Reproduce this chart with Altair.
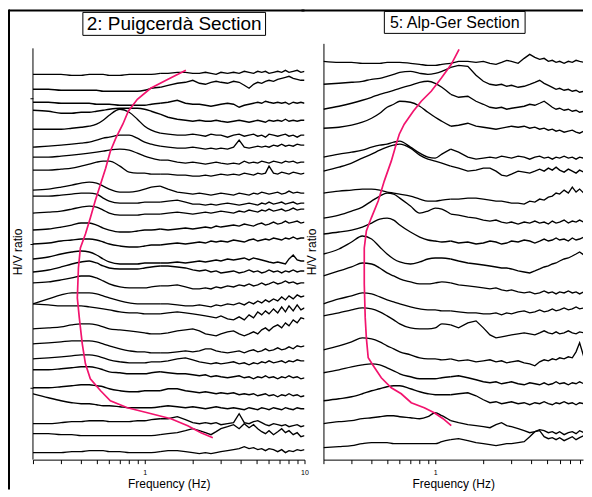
import altair as alt
import pandas as pd

# ---------------- data ----------------
freq = [0.2, 0.25, 0.3, 0.35, 0.4, 0.45, 0.5, 0.55, 0.6, 0.7, 0.8, 0.9, 1.0,
        1.1, 1.25, 1.4, 1.6, 1.8, 2.0,
        2.2, 2.4, 2.6, 2.8, 3.0, 3.3, 3.6, 3.9, 4.2, 4.5, 4.8, 5.1, 5.4, 5.7, 6.0,
        6.4, 6.8, 7.2, 7.6, 8.0, 8.5, 9.0, 9.5, 10.0]

# stacked H/V curves, Puigcerda section (offset of each station + its H/V shape)
left_offsets = [386, 371, 358, 350, 331, 313, 303, 290, 270, 264, 247, 230, 216, 201,
                188, 177, 156, 156, 131, 116, 101, 90, 72, 66, 36, 26, 7]
left_amps = [
    [0,0,0,-1,-1,0,0,0,-1,-1,0,0,0, 0,1,1,2,2,1, 1,2,1,0,2,1,2,1,3,2,1,3,2,3,1,2,3,2,4,2,3,4,2,3],
    [0,0,-1,-1,-1,-1,-1,-2,-2,-2,-2,-2,-1, 1,2,4,6,7,9, 6,5,7,8,7,6,8,7,4,1,5,7,6,8,9,8,10,11,12,13,11,10,9,9],
    [0,0,-1,-1,-1,-1,-2,-2,-2,-3,-3,-3,-3, -2,-1,0,2,-1,-2, -2,-3,-4,-3,-2,-1,-2,-5,-3,-2,-1,0,-1,1,0,-1,0,-1,0,-2,0,-1,0,-1],
    [0,-1,-3,-3,-2,-2,-1,0,1,2,2,2,1, -1,-4,-7,-9,-10,-11, -10,-11,-11,-10,-11,-12,-11,-10,-11,-12,-11,-10,-11,-12,-10,-11,-10,-11,-9,-11,-10,-11,-10,-10],
    [0,0,0,1,2,3,5,9,14,20,17,10,3, -1,-4,-5,-6,-6,-5, -6,-7,-5,-6,-6,-8,-6,-5,-7,-6,-5,-7,-6,-8,-5,-6,-7,-6,-5,-7,-6,-8,-6,-6],
    [0,1,2,3,4,5,7,9,10,12,12,9,5, 3,1,0,-1,-1,0, -1,-2,-1,-2,-1,-2,0,7,0,-1,0,1,0,1,0,2,1,3,1,2,1,3,2,2],
    [0,0,1,2,3,4,5,6,7,8,7,4,1, -1,-3,-3,-5,-6,-5, -6,-7,-6,-5,-6,-7,-6,-7,-4,-6,-5,-6,-4,-5,-6,-4,-5,-6,-4,-5,-4,-6,-5,-5],
    [0,0,1,2,4,6,8,9,9,4,-2,-3,-3, -4,-4,-4,-5,-5,-6, -6,-5,-6,-5,-4,-5,-4,-5,-3,-4,-5,-3,-4,-3,4,-3,-4,-2,-3,-4,-2,-3,-4,-3],
    [0,1,3,5,7,8,7,4,1,-2,-2,-1,1, 3,4,1,-2,-3,-4, -3,-4,-5,-4,-3,-4,-5,-3,-4,-5,-3,-4,-2,-3,-4,-3,-2,-4,-3,-1,-3,-2,-3,-3],
    [0,0,1,2,3,3,2,-2,-5,-7,-7,-7,-6, -6,-6,-5,-4,-6,-8, -8,-9,-8,-9,-8,-7,-8,-9,-8,-7,-8,-9,-7,-8,-6,-8,-7,-6,-8,-7,-6,-8,-7,-7],
    [0,1,2,4,6,7,6,3,0,-2,-2,-2,-1, -1,-1,0,1,0,-1, 0,1,0,1,2,1,0,2,1,3,2,1,3,2,4,2,3,4,2,3,5,3,4,4],
    [0,1,3,5,7,7,5,2,0,-2,-2,-1,0, 0,1,0,1,2,1, 2,3,2,4,3,4,5,4,6,5,4,6,7,5,6,8,6,7,9,7,8,9,7,8],
    [0,1,3,4,5,5,4,2,0,-2,-3,-3,-2, -1,-1,0,1,0,1, 2,1,3,2,3,2,4,3,2,4,5,3,4,5,4,6,5,4,6,5,7,5,6,6],
    [0,2,5,7,8,7,4,0,-3,-5,-5,-5,-4, -4,-4,-4,-3,-4,-3, -2,-3,-2,-1,-2,0,-1,0,1,-1,1,0,-1,-2,-3,-4,-3,-4,-5,0,4,-1,-2,-2],
    [0,2,5,8,10,11,9,6,4,3,3,3,4, 5,6,6,5,4,2, 1,2,0,1,-1,0,1,-1,0,2,0,1,-1,0,2,0,1,-1,1,0,2,0,1,1],
    [0,1,3,5,7,7,5,2,-1,-4,-5,-5,-5, -4,-3,-3,-2,-4,-6, -6,-5,-6,-4,-5,-3,-4,-2,-3,-1,-3,-2,0,-2,-1,1,-1,0,2,0,1,-1,0,0],
    [0,5,9,11,11,11,10,8,6,3,1,0,0, 0,0,0,-1,-2,-2, -1,-2,-3,-1,-2,0,-1,1,-1,2,0,3,1,4,2,5,3,7,4,8,5,9,7,8],
    [0,-1,-2,-2,-2,-3,-4,-5,-6,-8,-9,-9,-10, -10,-10,-9,-8,-9,-10, -11,-12,-13,-14,-12,-15,-16,-13,-16,-11,-14,-8,-11,-7,-10,-5,-9,-3,-8,-2,-7,-1,-6,-4],
    [0,1,2,4,5,5,4,2,0,-1,-2,-3,-4, -5,-5,-4,-2,-1,0, -2,-5,-6,-7,-5,-3,-2,-5,-7,-5,-3,-5,-1,1,-2,2,4,1,6,3,9,6,11,10],
    [0,1,2,3,3,3,2,0,-2,-5,-7,-8,-8, -9,-9,-9,-8,-7,-8, -7,-5,-5,-7,-8,-9,-8,-7,-9,-7,-6,-8,-7,-5,-7,-6,-4,-6,-5,-3,-5,-2,-3,-2],
    [0,1,2,3,4,4,3,1,-1,-3,-4,-4,-4, -3,-3,-2,0,1,-1, -3,-4,-5,-4,-5,-4,-3,-5,-4,-6,-4,-5,-3,-4,-2,-4,-3,-2,-4,-2,-3,-1,-2,-2],
    [0,0,1,2,3,3,2,0,-2,-3,-4,-4,-4, -3,-2,-3,-4,-4,-5, -6,-5,-7,-6,-7,-8,-7,-6,-8,-7,-9,-7,-8,-6,-8,-7,-9,-7,-8,-6,-8,-7,-9,-8],
    [0,0,1,2,3,3,2,1,-1,-3,-4,-4,-3, -3,-3,-1,-1,-3,-4, -5,-4,-5,-6,-5,-6,-5,-7,-6,-7,-6,-8,-7,-6,-8,-7,-9,-7,-8,-6,-8,-7,-9,-8],
    [0,-4,-7,-9,-10,-10,-11,-12,-12,-13,-14,-14,-14, -14,-13,-12,-13,-14,-13, -14,-15,-14,-13,-14,-15,-14,-15,-16,-14,-15,-16,-14,-15,-16,-14,-15,-16,-14,-15,-16,-14,-15,-15],
    [0,0,1,2,2,3,3,3,2,2,2,3,3, 4,5,5,7,4,1, 0,1,0,1,-1,0,1,10,1,0,2,3,1,-1,-2,0,-1,-2,-1,-3,-2,-1,-3,-2],
    [0,0,-1,-1,-2,-2,-2,-2,-2,-2,-2,-2,-2, -2,-1,0,1,3,5, 3,1,-1,2,5,7,9,5,10,6,9,5,2,0,3,-1,2,5,1,3,-1,1,-3,-2],
    [0,0,0,1,1,2,2,2,1,1,0,0,0, 0,1,2,2,1,0, -1,0,-1,0,1,2,3,4,6,4,5,3,4,2,4,3,1,3,0,2,1,3,2,3],
]

# stacked H/V curves, Alp-Ger section
right_offsets = [399, 376, 351, 332, 303, 289, 267, 242, 226, 206, 184, 156, 144, 110,
                 87, 59, 36, 12]
right_amps = [
    [0,-1,-1,-2,-2,-2,-1,-1,-1,-2,-3,-4,-4, -3,-2,0,0,-1,0, -2,-3,-1,1,0,-2,3,7,4,2,3,0,1,-1,0,-2,0,-1,1,0,-1,1,0,1],
    [0,1,2,3,5,6,8,10,12,13,11,10,11, 13,17,19,18,9,3, 0,-1,0,-2,-1,-3,-2,0,2,4,1,-1,-3,-5,-4,-6,-5,-7,-6,-8,-7,-9,-8,-8],
    [0,3,6,9,12,15,17,19,21,24,27,28,26, 22,15,12,13,8,5, 2,1,2,0,1,2,3,5,4,6,8,5,2,0,1,-1,0,-2,-1,-3,-2,-4,-3,-4],
    [0,1,3,6,10,15,21,24,27,26,22,16,11, 7,2,3,5,2,1, 0,-1,0,1,2,1,2,0,1,-1,0,-2,-1,-3,-2,-4,-3,-2,-4,-5,-3,-5,-4,-5],
    [0,3,5,7,10,12,13,15,16,10,4,0,-1, 3,8,5,0,-2,-1, 0,-1,1,0,-1,1,0,-2,0,1,-1,0,-2,0,-1,1,-1,0,-2,0,-1,1,-1,-1],
    [0,4,8,13,17,21,24,26,27,23,16,12,10, 8,5,3,0,1,3, 3,0,-4,-5,-3,0,-1,-2,0,2,0,3,1,4,1,-1,2,0,-2,1,-1,-3,-1,-2],
    [0,2,3,4,4,3,1,0,-1,-3,-6,-8,-8, -7,-6,-6,-5,-5,-6, -7,-8,-8,-9,-10,-10,-11,-8,-9,-6,-7,-4,-3,0,-1,3,0,6,1,4,0,3,1,2],
    [0,3,7,11,17,22,25,24,20,12,5,7,10, 9,4,3,1,0,-2, -3,-2,-4,-5,-4,-6,-4,-5,-3,-5,-4,-6,-3,-5,-4,-2,-5,-3,-4,-2,-4,-3,-5,-3],
    [0,2,4,7,11,15,16,14,9,2,-3,-6,-7, -8,-7,-9,-8,-10,-9, -7,-8,-10,-9,-7,-8,-6,-7,-9,-7,-5,-7,-6,-4,-6,-5,-7,-4,-6,-5,-3,-5,-4,-5],
    [0,5,12,18,15,7,0,-5,-8,-10,-8,-5,-4, -4,-5,-7,-9,-10,-11, -12,-13,-14,-14,-15,-17,-18,-19,-17,-15,-13,-12,-10,-9,-7,-5,-4,-2,0,2,-1,4,0,1],
    [0,5,9,13,12,8,3,0,-3,-6,-8,-8,-7, -6,-7,-9,-10,-11,-12, -13,-12,-14,-15,-14,-16,-17,-16,-18,-17,-15,-17,-16,-18,-16,-17,-15,-17,-16,-18,-16,-17,-16,-17],
    [0,5,8,11,10,7,4,2,0,-3,-5,-6,-6, -7,-7,-8,-9,-9,-10, -10,-9,-11,-9,-10,-8,-7,-9,-8,-6,-8,-7,-5,-7,-6,-4,-6,-5,-3,-5,-4,-3,-5,-4],
    [0,3,6,8,7,4,0,-4,-8,-12,-13,-13,-12, -8,-9,-12,-7,-5,-12, -19,-22,-21,-20,-19,-18,-17,-18,-19,-17,-15,-17,-18,-16,-18,-17,-15,-17,-18,-16,-17,-15,-17,-17],
    [0,4,8,12,11,8,4,1,-2,-5,-8,-9,-9, -10,-9,-11,-10,-12,-11, -10,-12,-11,-13,-12,-11,-13,-14,-16,-12,-10,-11,-9,-10,-8,-9,-7,-8,-2,7,-7,-5,-4,-4],
    [0,3,6,8,9,8,5,2,-1,-4,-6,-6,-6, -5,-4,-3,-5,-7,-9, -10,-9,-11,-10,-9,-11,-12,-10,-11,-12,-10,-12,-11,-9,-11,-10,-12,-10,-11,-9,-11,-10,-12,-11],
    [0,2,4,7,10,12,14,15,15,12,9,7,6, 6,6,7,8,5,1, -2,-1,-3,-2,-1,-3,-2,-4,-2,-3,-1,-3,-4,-2,-3,-1,-3,-2,-4,-2,-3,-1,-3,-3],
    [0,2,3,5,6,7,8,8,7,6,5,7,11, 8,3,1,-1,-2,-3, -4,-1,1,-2,-3,-5,-7,-9,-8,-6,-7,-9,-8,-10,-8,-11,-9,-8,-10,-7,-9,-11,-8,-9],
    [0,1,2,4,5,5,5,4,4,4,4,4,4, 6,8,9,7,5,4, 3,2,3,4,4,5,6,11,16,17,11,9,10,8,10,7,9,11,8,10,12,1,7,7],
]

# fundamental-frequency trend lines (pink)
pink_left_f = [1.81, 1.40, 1.09, 0.90, 0.79, 0.73, 0.66, 0.61, 0.57, 0.53,
               0.49, 0.457, 0.426, 0.396, 0.385, 0.379, 0.39, 0.407, 0.426, 0.457,
               0.53, 0.61, 0.78, 1.04, 1.46, 1.86, 2.25, 2.67]
pink_left_v = [390, 381, 372, 361, 349, 336, 322, 309, 292, 276,
               259, 242, 226, 212, 192, 162, 142, 116, 96, 81,
               69, 59, 52, 47, 41, 34, 27, 22]
pink_right_f = [1.41, 1.26, 1.09, 0.944, 0.818, 0.729, 0.640, 0.596, 0.570, 0.531,
                0.480, 0.440, 0.398, 0.371, 0.360, 0.360, 0.360, 0.365, 0.371, 0.381,
                0.410, 0.460, 0.531, 0.613, 0.708, 0.854, 0.986, 1.12, 1.26]
pink_right_v = [411, 396, 382, 369, 359, 349, 336, 326, 316, 299,
                279, 259, 242, 229, 212, 209, 176, 142, 122, 102,
                94, 82, 72, 66, 57, 52, 47, 41, 34]

x_ticks = [0.2, 0.3, 0.4, 0.5, 0.6, 0.7, 0.8, 0.9, 1, 2, 3, 4, 5, 6, 7, 8, 9, 10]
left_y_ticks = [72, 216, 362]

PINK = "#f2146e"
FONT = "Liberation Sans"
H = 417
SPLIT = 1.25  # smooth (low-frequency) part drawn with monotone, noisy part linear


def curves_df(offsets, amps):
    rows = []
    for i, (off, amp) in enumerate(zip(offsets, amps)):
        for f, a in zip(freq, amp):
            rows.append({"curve": i, "f": f, "hv": off + a})
    return pd.DataFrame(rows)


def pink_df(fs, vs):
    return pd.DataFrame({"i": list(range(len(fs))), "f": fs, "hv": vs})


one = pd.DataFrame({"k": [0]})


def panel(cdf, pdf, fmax, width, title, tsize, box, yticks, ydomain_line, frame_left, vframe):
    xenc = alt.X("f:Q",
                 scale=alt.Scale(type="log", domain=[0.2, fmax], nice=False),
                 axis=alt.Axis(values=x_ticks,
                               labelExpr="datum.value == 1 ? '1' : (datum.value == 10 ? '10' : '')",
                               title="Frequency (Hz)", grid=False, tickSize=4,
                               labelFontSize=7, labelPadding=5, titleFontSize=12,
                               titleFontWeight="normal", titlePadding=3,
                               domainColor="black", tickColor="black",
                               labelColor="black", titleColor="black",
                               labelFlush=False, labelOverlap=False))
    yenc = alt.Y("hv:Q",
                 scale=alt.Scale(domain=[0, H], nice=False, zero=False),
                 axis=alt.Axis(values=yticks, labels=False, title="H/V ratio",
                               grid=False, tickSize=3, titleFontSize=12,
                               titleFontWeight="normal", titlePadding=5,
                               domain=not ydomain_line,
                               domainColor="black", tickColor="black",
                               titleColor="black"))
    base = alt.Chart(cdf).encode(x=xenc, y=yenc, detail="curve:N")
    smooth = base.transform_filter(alt.datum.f <= SPLIT).mark_line(
        color="black", strokeWidth=1.35, interpolate="monotone", clip=True)
    noisy = base.transform_filter(alt.datum.f >= SPLIT).mark_line(
        color="black", strokeWidth=1.35, interpolate="linear", clip=True)
    pink = alt.Chart(pdf).mark_line(color=PINK, strokeWidth=1.7, clip=True).encode(
        x="f:Q", y="hv:Q", order="i:Q")
    layers = [smooth, noisy, pink]
    if ydomain_line:
        layers.append(alt.Chart(one).mark_rule(color="black", strokeWidth=1).encode(
            x=alt.value(0), y=alt.datum(0), y2=alt.datum(412)))
    x0, x1, y0, y1 = box
    layers.append(alt.Chart(one).mark_rect(fill="white", stroke="black", strokeWidth=1).encode(
        x=alt.value(x0), x2=alt.value(x1), y=alt.value(y0), y2=alt.value(y1)))
    layers.append(alt.Chart(one).mark_text(fontSize=tsize, font=FONT, color="black",
                                           align="center", baseline="middle").encode(
        x=alt.value((x0 + x1) / 2), y=alt.value((y0 + y1) / 2 + 0.5), text=alt.value(title)))
    # outer frame (top edge, and left edge on the first panel)
    layers.append(alt.Chart(one).mark_rule(color="black", strokeWidth=2).encode(
        x=alt.value(frame_left), x2=alt.value(width), y=alt.value(-33)))
    if vframe:
        layers.append(alt.Chart(one).mark_rule(color="black", strokeWidth=2).encode(
            x=alt.value(frame_left), y=alt.value(-34), y2=alt.value(447)))
    return alt.layer(*layers).properties(width=width, height=H)


left = panel(curves_df(left_offsets, left_amps), pink_df(pink_left_f, pink_left_v),
             10, 272, "2: Puigcerdà Section", 19, (50, 233, -31, -8),
             left_y_ticks, True, -24, True)
right = panel(curves_df(right_offsets, right_amps), pink_df(pink_right_f, pink_right_v),
              8.4, 260, "5: Alp-Ger Section", 16, (61, 202, -32, -10),
              [], False, -22, False)

chart = alt.hconcat(left, right, spacing=19, bounds="flush").properties(
    padding={"left": 0, "top": 0, "right": 0, "bottom": 0}
).configure(font=FONT).configure_view(strokeWidth=0)

chart.save("out.html", embed_options={"renderer": "svg", "actions": False})
